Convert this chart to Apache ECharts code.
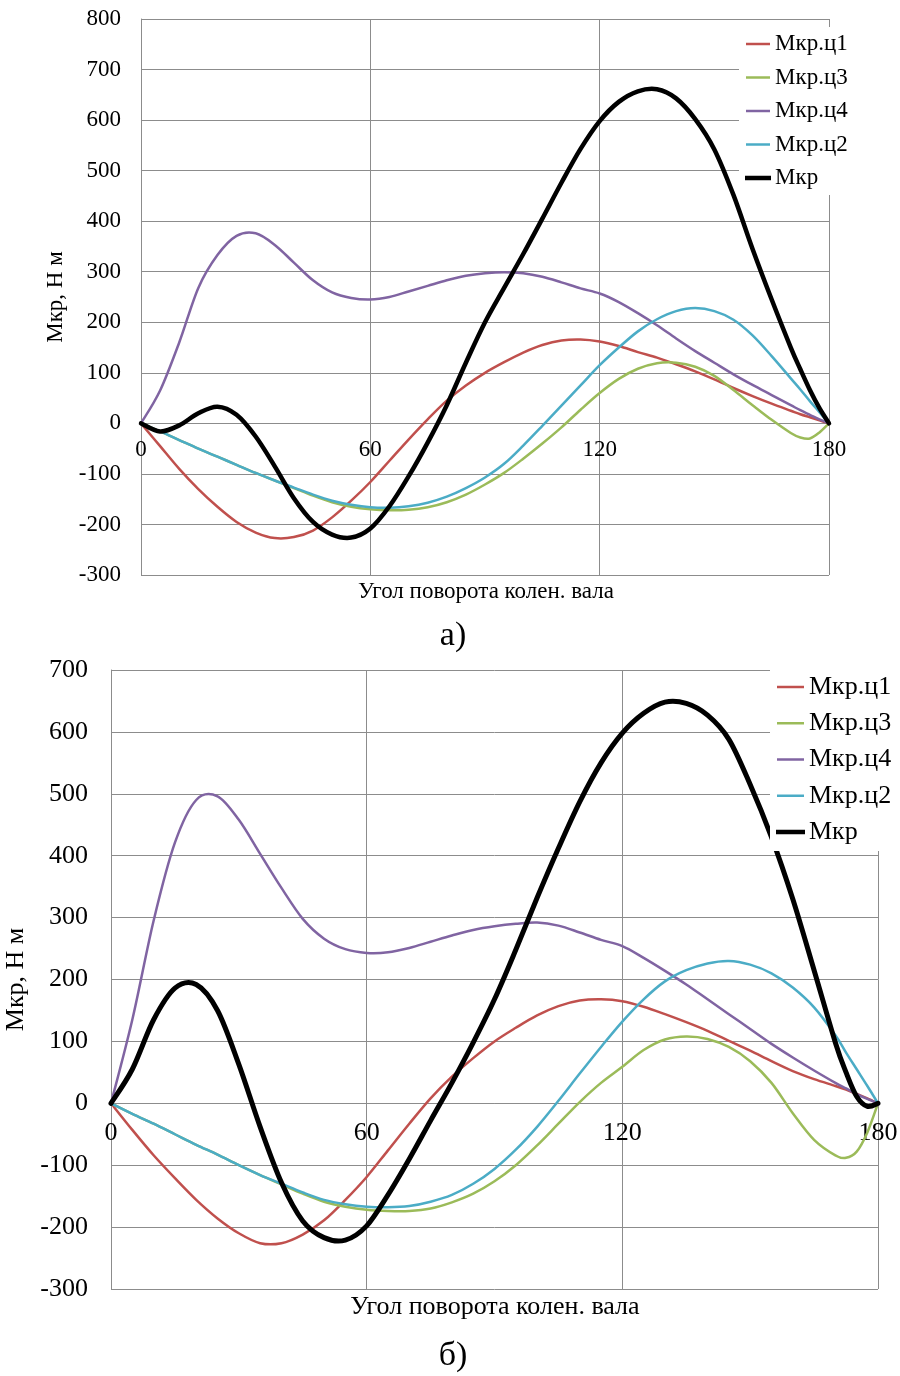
<!DOCTYPE html>
<html>
<head>
<meta charset="utf-8">
<script src="https://cdn.jsdelivr.net/npm/echarts@6/dist/echarts.min.js"></script>
<style>
  html, body { margin: 0; padding: 0; background: #ffffff; }
  #chart { width: 900px; height: 1376px; }
</style>
</head>
<body>
<div id="chart"></div>
<script>
// Crank angle, degrees
const angles = [0, 5, 10, 15, 20, 25, 30, 35, 40, 45, 50, 55, 60, 65, 70, 75, 80, 85,
  90, 95, 100, 105, 110, 115, 120, 125, 130, 135, 140, 145, 150, 155, 160, 165, 170, 172.5, 175, 177.5, 180];

const seriesNames = ['Мкр.ц1', 'Мкр.ц3', 'Мкр.ц4', 'Мкр.ц2', 'Мкр'];

// Panel а) — torque per cylinder and total, N·m
const cyl1A = [0, -45, -90, -130, -165, -195, -216, -227, -225, -212, -186, -153, -116, -74, -32, 8, 45, 75,
  100, 121, 140, 155, 164, 166, 162, 153, 141, 130, 117, 103, 87, 70, 54, 39, 25, 18, 12, 6, 0];
const cyl3A = [0, -16, -33, -50, -66, -82, -98, -113, -128, -143, -156, -165, -170, -172, -171, -166, -156, -141,
  -121, -98, -70, -40, -8, 27, 60, 88, 108, 119, 120, 112, 94, 66, 36, 7, -19, -28, -30, -18, 0];
const cyl4A = [0, 65, 160, 268, 333, 371, 376, 353, 318, 283, 259, 248, 245, 250, 261, 272, 283, 292,
  297, 299, 297, 290, 279, 267, 257, 240, 218, 194, 168, 143, 120, 97, 76, 56, 36, 26, 17, 8, 0];
const cyl2A = [0, -16, -33, -50, -66, -82, -98, -113, -127, -141, -153, -161, -166, -167, -164, -157, -145, -128,
  -107, -80, -44, -5, 35, 75, 115, 150, 182, 206, 222, 228, 222, 205, 174, 133, 89, 67, 44, 22, 0];
const totalA = [0, -16, -4, 20, 33, 17, -26, -85, -148, -195, -220, -226, -208, -164, -105, -38, 36, 120,
  200, 268, 335, 405, 476, 543, 598, 636, 657, 661, 643, 602, 542, 452, 345, 245, 150, 107, 66, 30, 0];

// Panel б)
const cyl1B = [0, -43, -84, -121, -156, -186, -210, -226, -226, -212, -189, -156, -119, -76, -33, 8, 43, 73,
  100, 122, 142, 157, 166, 168, 165, 156, 144, 131, 117, 101, 85, 68, 52, 39, 28, 22, 15, 8, 0];
const cyl3B = [0, -17, -33, -50, -67, -83, -100, -116, -131, -146, -159, -167, -172, -174, -174, -170, -160, -146,
  -126, -100, -68, -33, 2, 33, 59, 86, 103, 108, 104, 91, 68, 33, -16, -59, -84, -88, -78, -47, 0];
const cyl4B = [0, 135, 295, 421, 490, 496, 458, 403, 348, 298, 266, 249, 243, 244, 251, 261, 271, 280,
  286, 290, 292, 287, 276, 264, 254, 235, 214, 192, 168, 144, 120, 96, 74, 53, 33, 24, 15, 7, 0];
const cyl2B = [0, -17, -33, -50, -67, -83, -100, -116, -130, -144, -156, -163, -167, -168, -166, -159, -148, -130,
  -106, -75, -38, 4, 48, 91, 132, 168, 197, 215, 226, 230, 224, 210, 187, 155, 110, 82, 55, 28, 0];
const totalB = [0, 55, 135, 186, 192, 150, 63, -38, -128, -190, -217, -221, -198, -148, -90, -28, 33, 98,
  168, 248, 332, 412, 487, 550, 598, 630, 648, 646, 627, 588, 515, 430, 330, 215, 98, 50, 11, -5, 0];

// Axis ranges
const yRangeA = [-300, 800];
const yRangeB = [-300, 700];
const xRange = [0, 180];

const FONT = '"Liberation Serif", "Times New Roman", serif';
const GRID_LINE = '#8c8c8c';
const COLORS = ['#C0504D', '#9BBB59', '#8064A2', '#4BACC6', '#000000'];

const gridA = { left: 141, top: 19, width: 688, height: 556 };
const gridB = { left: 111, top: 670, width: 767, height: 619 };

function pairs(values) {
  return angles.map((a, i) => [a, values[i]]);
}

// Smooth cubic Bezier path through pixel points (Catmull-Rom tangents)
function smoothPath(pts) {
  let d = 'M' + pts[0][0] + ',' + pts[0][1];
  for (let i = 0; i < pts.length - 1; i++) {
    const p0 = pts[i - 1] || pts[i];
    const p1 = pts[i];
    const p2 = pts[i + 1];
    const p3 = pts[i + 2] || p2;
    const c1x = p1[0] + (p2[0] - p0[0]) / 6;
    const c1y = p1[1] + (p2[1] - p0[1]) / 6;
    const c2x = p2[0] - (p3[0] - p1[0]) / 6;
    const c2y = p2[1] - (p3[1] - p1[1]) / 6;
    d += ' C' + c1x + ',' + c1y + ' ' + c2x + ',' + c2y + ' ' + p2[0] + ',' + p2[1];
  }
  return d;
}

function curveSeries(panel, values, k, thinWidth, boldWidth) {
  const color = COLORS[k];
  const width = k === 4 ? boldWidth : thinWidth;
  return {
    type: 'custom',
    name: seriesNames[k],
    coordinateSystem: 'cartesian2d',
    xAxisIndex: panel,
    yAxisIndex: panel,
    data: pairs(values),
    encode: { x: 0, y: 1 },
    itemStyle: { color: color },
    silent: true,
    z: 2 + k * 0.01,
    renderItem: function (params, api) {
      if (params.dataIndex !== 0) return null;
      const pts = angles.map((a, i) => api.coord([a, values[i]]));
      return {
        type: 'path',
        shape: { pathData: smoothPath(pts) },
        style: { fill: 'none', stroke: color, lineWidth: width, lineJoin: 'round', lineCap: 'round' }
      };
    }
  };
}

function xAxisCfg(panel, yRange, grid, fontSize, margin) {
  // the angle axis sits on the zero level of the torque axis
  const zeroOffset = -grid.height * (0 - yRange[0]) / (yRange[1] - yRange[0]);
  return {
    gridIndex: panel,
    type: 'value',
    position: 'bottom',
    offset: zeroOffset,
    min: xRange[0], max: xRange[1], interval: 60,
    axisLine: { show: true, onZero: false, lineStyle: { color: GRID_LINE, width: 1 } },
    axisTick: { show: false },
    axisLabel: { fontFamily: FONT, fontSize: fontSize, color: '#000', margin: margin },
    splitLine: { show: true, lineStyle: { color: GRID_LINE, width: 1 } }
  };
}

function yAxisCfg(panel, yRange, fontSize, margin, nameGap) {
  return {
    gridIndex: panel,
    type: 'value',
    min: yRange[0], max: yRange[1], interval: 100,
    name: 'Мкр, Н м',
    nameLocation: 'middle',
    nameRotate: 90,
    nameGap: nameGap,
    nameTextStyle: { fontFamily: FONT, fontSize: fontSize, color: '#000' },
    axisLine: { show: true, onZero: false, lineStyle: { color: GRID_LINE, width: 1 } },
    axisTick: { show: false },
    axisLabel: { fontFamily: FONT, fontSize: fontSize, color: '#000', margin: margin },
    splitLine: { show: true, lineStyle: { color: GRID_LINE, width: 1 } }
  };
}

function legendCfg(left, top, fontSize, itemWidth, itemGap, pad) {
  return {
    orient: 'vertical',
    left: left, top: top,
    backgroundColor: '#ffffff',
    padding: pad,
    itemWidth: itemWidth,
    itemHeight: 2.5,
    itemGap: itemGap,
    selectedMode: false,
    data: seriesNames.map((n, k) => ({
      name: n,
      icon: 'rect',
      itemStyle: k === 4
        ? { color: COLORS[k], borderColor: COLORS[k], borderWidth: 2 }
        : { color: COLORS[k], borderWidth: 0 }
    })),
    textStyle: { fontFamily: FONT, fontSize: fontSize, lineHeight: fontSize, color: '#000' }
  };
}

const chart = echarts.init(document.getElementById('chart'), null, { renderer: 'canvas' });

chart.setOption({
  animation: false,
  backgroundColor: '#ffffff',
  textStyle: { fontFamily: FONT },
  grid: [
    Object.assign({ outerBoundsMode: 'none', containLabel: false }, gridA),
    Object.assign({ outerBoundsMode: 'none', containLabel: false }, gridB)
  ],
  xAxis: [xAxisCfg(0, yRangeA, gridA, 23, 15), xAxisCfg(1, yRangeB, gridB, 26, 17)],
  yAxis: [yAxisCfg(0, yRangeA, 23, 20, 67), yAxisCfg(1, yRangeB, 26, 23, 72)],
  legend: [
    legendCfg(739, 27, 23, 24, 10.5, [5.5, 10, 5.5, 6]),
    legendCfg(770, 668, 26, 27, 10.25, [6, 10, 6, 6])
  ],
  graphic: [
    { type: 'text', x: 486, y: 592, style: { text: 'Угол поворота колен. вала', fontFamily: FONT, fontSize: 23, fill: '#000', align: 'center', verticalAlign: 'middle' } },
    { type: 'text', x: 453, y: 636, style: { text: 'а)', fontFamily: FONT, fontSize: 34, fill: '#000', align: 'center', verticalAlign: 'middle' } },
    { type: 'text', x: 495, y: 1307, style: { text: 'Угол поворота колен. вала', fontFamily: FONT, fontSize: 26, fill: '#000', align: 'center', verticalAlign: 'middle' } },
    { type: 'text', x: 453, y: 1356, style: { text: 'б)', fontFamily: FONT, fontSize: 34, fill: '#000', align: 'center', verticalAlign: 'middle' } }
  ],
  series: [
    ...[cyl1A, cyl3A, cyl4A, cyl2A, totalA].map((v, k) => curveSeries(0, v, k, 2.5, 4.5)),
    ...[cyl1B, cyl3B, cyl4B, cyl2B, totalB].map((v, k) => curveSeries(1, v, k, 2.5, 5))
  ]
});
</script>
</body>
</html>
